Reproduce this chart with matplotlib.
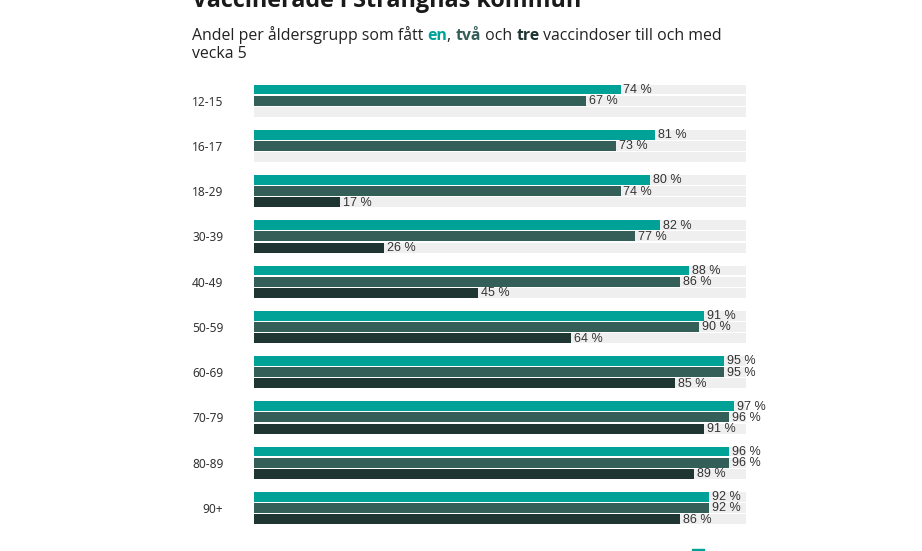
import numpy as np
import matplotlib
matplotlib.use("Agg")
import matplotlib.pyplot as plt
from matplotlib.patches import Rectangle

# data
groups = ["12-15", "16-17", "18-29", "30-39", "40-49", "50-59", "60-69", "70-79", "80-89", "90+"]
dos1 = [74, 81, 80, 82, 88, 91, 95, 97, 96, 92]
dos2 = [67, 73, 74, 77, 86, 90, 95, 96, 96, 92]
dos3 = [None, None, 17, 26, 45, 64, 85, 91, 89, 86]

colors = ["#00a298", "#345e58", "#1f3532"]
bg = "#efefef"

W, H = 922, 551
fig = plt.figure(figsize=(W / 100, H / 100), dpi=100)

# axes placement in pixels
left, right = 254, 746
top, bottom = 78.1, 530.6
ax = fig.add_axes([left / W, 1 - bottom / H, (right - left) / W, (bottom - top) / H])

step = 0.248
h = 0.22
y = np.arange(len(groups))
for k, series in enumerate([dos1, dos2, dos3]):
    yy = y + (k - 1) * step
    ax.barh(yy, [100] * len(groups), height=h, color=bg, zorder=1)
    for yi, v in zip(yy, series):
        if v is None:
            continue
        ax.barh(yi, v + 0.5, height=h, color=colors[k], zorder=2)
        ax.text(v + 1.1, yi + 0.01, f"{v} %", va="center", ha="left",
                fontsize=9, family="Liberation Sans", color="#333333", zorder=3)

ax.set_xlim(0, 100)
ax.set_ylim(len(groups) - 0.5, -0.5)
ax.set_yticks(y)
ax.set_yticklabels(groups, family="Noto Sans", fontsize=8.6, color="#333333")
ax.tick_params(axis="y", length=0, pad=22)
ax.set_xticks([])
for s in ax.spines.values():
    s.set_visible(False)

# title (cut off at the top)
fig.text(192 / W, 1 - 7 / H, "Vaccinerade i Strängnäs kommun", family="Open Sans",
         fontsize=16.8, fontweight="bold", color="#1a1a1a", va="baseline", ha="left")

# subtitle with coloured words
renderer = fig.canvas.get_renderer()
parts = [("Andel per åldersgrupp som fått ", "#222222", "normal"),
         ("en", colors[0], "bold"),
         (", ", "#222222", "normal"),
         ("två", colors[1], "bold"),
         (" och ", "#222222", "normal"),
         ("tre", colors[2], "bold"),
         (" vaccindoser till och med", "#222222", "normal")]
x = 192
for txt, c, w in parts:
    t = fig.text(x / W, 1 - 40 / H, txt, family="Open Sans", fontsize=11.4,
                 color=c, fontweight=w, va="baseline", ha="left")
    bb = t.get_window_extent(renderer=renderer)
    x = bb.x1
fig.text(192 / W, 1 - 58 / H, "vecka 5", family="Open Sans", fontsize=11.4,
         color="#222222", va="baseline", ha="left")

# legend swatch, mostly outside the image
fig.patches.append(Rectangle((692 / W, 0), 12 / W, 2 / H, transform=fig.transFigure,
                             color=colors[0]))

fig.savefig("out.png", dpi=100)
